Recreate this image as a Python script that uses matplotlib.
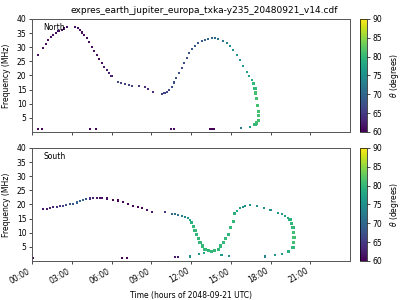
import numpy as np
import matplotlib
matplotlib.use('Agg')
from matplotlib import pyplot as plt

# North hemisphere: time (h), frequency (MHz), theta (deg)
north_t = [0.0, 0.48, 0.85, 1.05, 1.23, 1.4, 1.6, 1.8, 2.0, 2.24, 2.45, 2.62,
           3.25, 3.45, 3.62, 3.8, 3.95, 4.13, 4.3, 4.5, 4.7, 4.88, 5.07, 5.26,
           5.45, 5.64, 5.82, 6.0, 6.52, 6.75, 7.02, 7.3, 7.52, 8.1, 8.53, 8.78,
           9.16, 9.83, 10.0, 10.16, 10.35, 10.54, 10.7, 10.9, 11.1, 11.3, 11.5,
           11.67, 11.85, 12.05, 12.3, 12.55, 12.8, 13.06, 13.3, 13.56, 13.8,
           14.06, 14.4, 14.7, 14.94, 15.2, 15.45, 15.7, 15.95, 16.2, 16.4, 16.58,
           16.7, 16.83, 16.9, 16.96, 17.02, 17.08, 17.08, 17.08, 16.96, 16.83,
           16.45, 15.8,
           0.45, 0.75, 4.35, 4.8, 10.5, 10.75, 13.45, 13.6, 13.75]
north_f = [23, 27.3, 29.6, 31, 32.6, 33.5, 34.3, 35, 35.6, 36.1, 36.6, 37.0,
           37, 36.7, 36.1, 35.2, 34.3, 33.2, 31.8, 30.2, 28.7, 27.3, 25.8, 24.3,
           23.0, 21.9, 20.8, 19.8, 17.8, 17.3, 16.9, 16.6, 16.4, 16.3, 15.9, 15.2,
           14.0, 13.3, 13.7, 14.3, 15.0, 16, 17.5, 19, 20.8, 22.5, 24.5,
           26.3, 27.9, 29.3, 30.5, 31.4, 32.1, 32.6, 33.0, 33.2, 33.1,
           32.8, 32.2, 31.4, 30.4, 29, 27.3, 25.5, 23.5, 21.3, 19.8, 18.4,
           17, 15.5, 13.8, 11.9, 9.5, 7.2, 5.7, 4.2, 3.2, 2.5,
           1.8, 1.3,
           1.0, 1.0, 1.0, 1.0, 1.0, 1.0, 1.0, 1.0, 1.0]
north_theta = [61, 61, 61, 61, 61, 61, 61, 61, 61, 61, 61, 61,
               61, 61, 61, 61, 61, 61, 61, 61, 61, 61, 61, 61,
               62, 62, 63, 63, 66, 66, 66, 66, 66, 65, 64, 64,
               64, 66, 66, 66, 66, 67, 67, 67, 67, 67, 67,
               67, 68, 68, 68, 68, 69, 69, 70, 70, 70,
               71, 72, 73, 74, 75, 75, 76, 76, 77, 77, 78,
               80, 80, 81, 81, 81, 81, 81, 81, 81, 80,
               76, 72,
               60, 60, 60, 60, 61, 61, 60, 60, 60]

# South hemisphere
south_t = [0.8, 1.1, 1.36, 1.6, 1.86, 2.1, 2.36, 2.6, 2.87, 3.1, 3.37, 3.6,
           3.87, 4.1, 4.38, 4.6, 4.88, 5.1, 5.26, 5.64, 6.14, 6.5, 6.9, 7.27,
           7.64, 8.03, 8.28, 8.66, 9.03, 10.04, 10.54, 10.8, 11.04, 11.3, 11.55,
           11.75, 11.92, 12.05, 12.2, 12.3, 12.4, 12.55, 12.68, 12.85, 13.06,
           13.3, 13.56, 13.8, 14.06, 14.25, 14.43, 14.6, 14.8, 15.0, 15.2, 15.3,
           15.5, 15.7, 15.9, 16.08, 16.45, 16.96, 17.5, 18.0, 18.6, 18.85, 19.1,
           19.3, 19.47, 19.6, 19.7, 19.75, 19.77, 19.75, 19.7, 19.35, 18.85,
           18.34, 17.6,
           11.9, 12.6, 13.0, 14.3, 14.9,
           0.1, 6.8, 7.2, 10.8, 11.0]
south_f = [18.3, 18.5, 18.8, 19.0, 19.1, 19.3, 19.4, 19.7, 20.0, 20.3, 20.7, 21.1,
           21.5, 21.8, 22.1, 22.3, 22.4, 22.4, 22.4, 22.1, 21.7, 21.4, 20.9, 20.2,
           19.6, 19.2, 18.6, 17.9, 17.4, 17.2, 16.7, 16.5, 16.3, 16.0, 15.7,
           15.2, 14.6, 13.5, 12.2, 10.8, 9.4, 8.0, 6.5, 5.3, 4.2,
           3.7, 3.4, 3.7, 4.2, 5.3, 6.5, 8.0, 9.4, 11.7, 14, 16.9,
           17.8, 18.6, 19.2, 19.5, 19.75, 19.5, 18.8, 18.0, 17.1, 16.6, 16.0,
           15.3, 14.6, 13.2, 11.7, 10, 8.2, 6.5, 4.7, 3.4, 2.4,
           2.0, 1.6,
           1.6, 2.4, 2.8, 2.1, 1.8,
           1.0, 1.0, 1.0, 1.3, 1.3]
south_theta = [62, 62, 63, 63, 64, 65, 66, 67, 68, 68, 69, 69,
               70, 68, 64, 63, 62, 61, 61, 61, 60, 60, 60, 60,
               60, 60, 60, 61, 62, 65, 70, 71, 72, 73, 74,
               76, 78, 79, 80, 80, 80, 80, 80, 80, 80,
               80, 80, 80, 80, 80, 80, 80, 80, 80, 80, 79,
               78, 76, 75, 75, 75, 75, 75, 75, 76, 76, 77,
               78, 79, 80, 80, 81, 81, 81, 80, 79, 77,
               76, 74,
               75, 76, 78, 76, 75,
               60, 60, 60, 62, 62]

hour_ticks = [0, 3, 6, 9, 12, 15, 18, 21]
hour_labels = ['%02d:00' % h for h in hour_ticks]

plt.rcParams['font.size'] = 5.5
fig = plt.figure(figsize=(4, 3), dpi=100)
ax1 = fig.add_axes([0.08, 0.56, 0.795, 0.377])
ax2 = fig.add_axes([0.08, 0.13, 0.795, 0.377])
cax1 = fig.add_axes([0.9, 0.56, 0.018, 0.377])
cax2 = fig.add_axes([0.9, 0.13, 0.018, 0.377])

fig.text(0.51, 0.965, 'expres_earth_jupiter_europa_txka-y235_20480921_v14.cdf',
         ha='center', va='center', fontsize=6.5)

for ax, t, f, th, name, cax in [(ax1, north_t, north_f, north_theta, 'North', cax1),
                                (ax2, south_t, south_f, south_theta, 'South', cax2)]:
    th = np.array(th)
    # steep, high-theta parts are drawn wider in the original
    sizes = np.where(th >= 79, 5, 2.2)
    sc = ax.scatter(t, f, c=th, cmap='viridis', vmin=60, vmax=90, marker='s',
                    s=sizes, linewidths=0)
    ax.set_xlim(0, 24)
    ax.set_ylim(0, 40)
    ax.set_yticks([5, 10, 15, 20, 25, 30, 35, 40])
    ax.set_xticks(hour_ticks)
    ax.set_ylabel('Frequency (MHz)')
    ax.text(0.035, 0.9, name, transform=ax.transAxes, fontsize=5.5)
    ax.tick_params(length=2, width=0.5, pad=2)
    for s in ax.spines.values():
        s.set_color('#555555')
        s.set_linewidth(0.7)
    cb = fig.colorbar(sc, cax=cax, ticks=[60, 65, 70, 75, 80, 85, 90])
    cb.set_label(r'$\theta$ (degrees)')
    cb.ax.tick_params(length=2, width=0.5, pad=2)
    cb.outline.set_linewidth(0.5)

ax1.set_xticklabels([])
ax2.set_xticklabels(hour_labels, rotation=30, ha='right')
ax2.set_xlabel('Time (hours of 2048-09-21 UTC)')

fig.savefig('out.png', dpi=100)
